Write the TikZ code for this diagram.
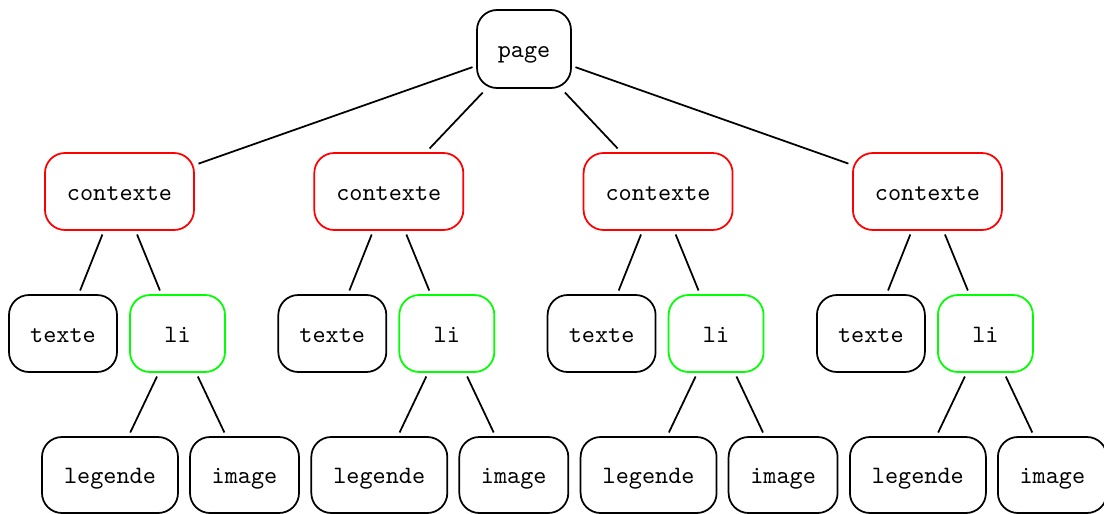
\documentclass[tikz,border=0pt]{standalone}
\begin{document}
\begin{tikzpicture}[x=0.4pt,y=-0.4pt,
  box/.style={draw=black, rounded corners=8pt, line width=0.7pt, inner sep=0pt,
    outer sep=1.8pt, font=\ttfamily, text height=6.8pt, text depth=0pt,
    minimum height=30.8pt},
  rootbox/.style={box, minimum width=37.6pt, minimum height=31.2pt},
  ctxbox/.style={box, draw=red, minimum width=59.6pt},
  textbox/.style={box, minimum width=43.2pt},
  libox/.style={box, draw=green, minimum width=38pt},
  legbox/.style={box, minimum width=54.4pt, minimum height=30.4pt},
  imgbox/.style={box, minimum width=43.6pt, minimum height=30.4pt},
  edge/.style={draw=black, line width=0.7pt}]
\path[use as bounding box, clip] (0,0) rectangle (1104,513);

\node[rootbox] (page) at (524,49) {page};

\foreach \i in {0,1,2,3} {
  \pgfmathsetmacro{\dx}{269.3*\i}
  \node[ctxbox]  (ctx\i) at (119.5+\dx,191.5) {contexte};
  \node[textbox] (txt\i) at (63+\dx,333.5)    {texte};
  \node[libox]   (li\i)  at (177.5+\dx,333.5) {li};
  \node[legbox]  (leg\i) at (110+\dx,475)     {legende};
  \node[imgbox]  (img\i) at (244.5+\dx,475)   {image};
  \draw[edge] (page) -- (ctx\i);
  \draw[edge] (ctx\i) -- (txt\i);
  \draw[edge] (ctx\i) -- (li\i);
  \draw[edge] (li\i) -- (leg\i);
  \draw[edge] (li\i) -- (img\i);
}
\end{tikzpicture}
\end{document}
